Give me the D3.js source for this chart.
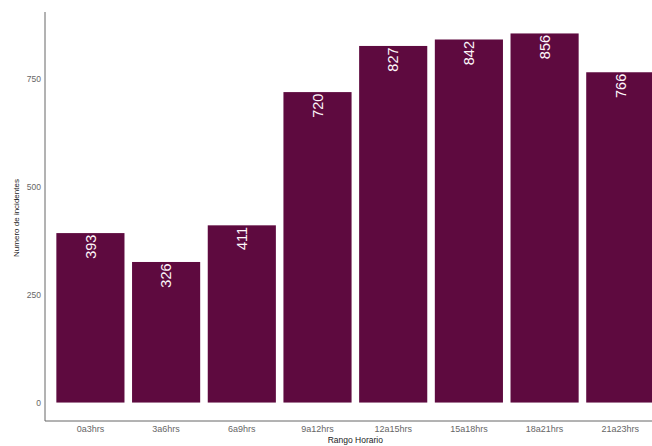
<!DOCTYPE html>
<html>
<head>
<meta charset="utf-8">
<script src="https://cdn.jsdelivr.net/npm/d3@7"></script>
<style>
  html, body { margin: 0; padding: 0; background: #fff; }
  svg { display: block; }
</style>
</head>
<body>
<svg id="chart" width="652" height="446"></svg>
<script>
const categories = ["0a3hrs", "3a6hrs", "6a9hrs", "9a12hrs", "12a15hrs", "15a18hrs", "18a21hrs", "21a23hrs"];
const values = [393, 326, 411, 720, 827, 842, 856, 766];
const yTicks = [0, 250, 500, 750];
const xTitle = "Rango Horario";
const yTitle = "Numero de incidentes";

(function () {
const svg = d3.select("#chart");
const W = 652, H = 446;
const mLeft = 45, mRight = 665.7, mTop = 15, mBottom = 421;

const maxV = d3.max(values);
const pad = maxV * 0.05;

const x = d3.scaleBand()
  .domain(categories)
  .range([mLeft, mRight])
  .paddingInner(0.1)
  .paddingOuter(0.15);

const y = d3.scaleLinear()
  .domain([-pad, maxV + pad])
  .range([mBottom, mTop]);

const font = "'Liberation Sans', Arial, sans-serif";
const barColor = "#5e0a3f";

// bars
svg.append("g").selectAll("rect")
  .data(values)
  .join("rect")
  .attr("x", (d, i) => x(categories[i]))
  .attr("width", x.bandwidth())
  .attr("y", d => y(d))
  .attr("height", d => y(0) - y(d))
  .attr("fill", barColor);

// bar labels
svg.append("g").selectAll("text")
  .data(values)
  .join("text")
  .attr("transform", (d, i) => `translate(${x(categories[i]) + x.bandwidth() / 2},${y(d) + 1.5}) rotate(-90)`)
  .attr("text-anchor", "end")
  .attr("dy", "0.36em")
  .attr("font-family", font)
  .attr("font-size", 14.5)
  .attr("fill", "#fdf6fa")
  .text(d => d);

// axes
const yAxis = d3.axisLeft(y).tickValues(yTicks).tickSize(0).tickPadding(4);
const gy = svg.append("g").attr("transform", `translate(${mLeft},0)`).call(yAxis);
gy.select(".domain").remove();
gy.selectAll("text").attr("font-family", font).attr("font-size", 8.5).attr("fill", "#666");

const xAxis = d3.axisBottom(x).tickSize(0).tickPadding(5);
const gx = svg.append("g").attr("transform", `translate(0,${mBottom})`).call(xAxis);
gx.select(".domain").remove();
gx.selectAll("text").attr("font-family", font).attr("font-size", 9).attr("fill", "#666");

// axis lines
svg.append("line").attr("x1", mLeft).attr("x2", mLeft).attr("y1", mTop - 3).attr("y2", mBottom)
  .attr("stroke", "#666").attr("stroke-width", 1);
svg.append("line").attr("x1", mLeft).attr("x2", W).attr("y1", mBottom).attr("y2", mBottom)
  .attr("stroke", "#666").attr("stroke-width", 1);

// titles
svg.append("text")
  .attr("x", (mLeft + mRight) / 2)
  .attr("y", 443)
  .attr("text-anchor", "middle")
  .attr("font-family", font)
  .attr("font-size", 8.5)
  .attr("fill", "#222")
  .text(xTitle);

svg.append("text")
  .attr("transform", `translate(19,${(mTop + mBottom) / 2}) rotate(-90)`)
  .attr("text-anchor", "middle")
  .attr("font-family", font)
  .attr("font-size", 8)
  .attr("fill", "#222")
  .text(yTitle);
})();
</script>
</body>
</html>
